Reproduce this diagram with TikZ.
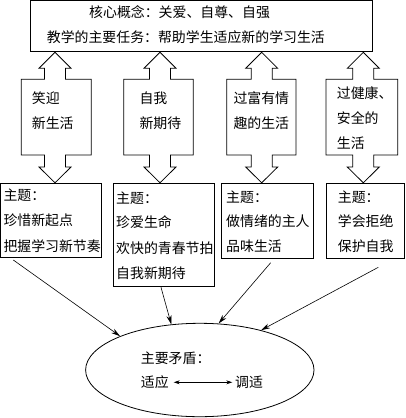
\documentclass[tikz,border=0pt]{standalone}
\usepackage{fontspec}
\newfontfamily\cjk{Noto Sans CJK SC}
\usetikzlibrary{arrows.meta,shapes.geometric}
\tikzset{
  x=1pt, y=-1pt,
  frame/.style={draw, line width=0.8pt, inner sep=0pt},
  txt/.style={inner sep=0pt, anchor=west, text height=12.2pt, text depth=1.7pt, font=\cjk\fontsize{13.9}{16}\selectfont},
  link/.style={line width=0.6pt, -{Stealth[length=9pt,width=5pt]}},
}
\newcommand\udcallout[3]{% cx, left, right
  \draw[line width=0.8pt] (#1,52.3) -- (#1+16,68.3) -- (#1+10.5,68.3) -- (#1+10.5,79.3) -- (#3,79.3) -- (#3,155) -- (#1+10.5,155) -- (#1+10.5,167) -- (#1+16,167) -- (#1,182.8) -- (#1-16,167) -- (#1-10.5,167) -- (#1-10.5,155) -- (#2,155) -- (#2,79.3) -- (#1-10.5,79.3) -- (#1-10.5,68.3) -- (#1-16,68.3) -- cycle;}
\begin{document}
\begin{tikzpicture}
\useasboundingbox (0,0) rectangle (405,418);
% top box
\node[frame, minimum width=341.6pt, minimum height=50.3pt] (top) at (201.5,25.85) {};
\node[txt] (t1) at (89,12.5) {核心概念：关爱、自尊、自强};
\node[txt] (t2) at (46.7,37) {教学的主要任务：帮助学生适应新的学习生活};
% callouts
\udcallout{55}{21.3}{91.3}
\udcallout{160}{123.7}{193.3}
\udcallout{261.7}{226.7}{296}
\udcallout{363.3}{326}{397.7}
\node[txt] (c1a) at (31.7,97.8) {笑迎};
\node[txt] (c1b) at (31.7,123.3) {新生活};
\node[txt] (c2a) at (139.3,97.8) {自我};
\node[txt] (c2b) at (139.3,123.3) {新期待};
\node[txt] (c3a) at (233.3,97.8) {过富有情};
\node[txt] (c3b) at (233.3,123.3) {趣的生活};
\node[txt] (c4a) at (336.7,93.7) {过健康、};
\node[txt] (c4b) at (336.7,118.3) {安全的};
\node[txt] (c4c) at (336.7,143) {生活};
% bottom boxes
\node[frame, minimum width=100.3pt, minimum height=74pt] (b1) at (50.85,220.3) {};
\node[frame, minimum width=101pt, minimum height=103.4pt] (b2) at (163.8,235) {};
\node[frame, minimum width=91.6pt, minimum height=75pt] (b3) at (267.5,220.8) {};
\node[frame, minimum width=78.3pt, minimum height=75pt] (b4) at (365.15,220.8) {};
\node[txt] (b1a) at (3.3,195) {主题：};
\node[txt] (b1b) at (3.3,220.3) {珍惜新起点};
\node[txt] (b1c) at (3.3,246) {把握学习新节奏};
\node[txt] (b2a) at (116,198.3) {主题：};
\node[txt] (b2b) at (116,222.7) {珍爱生命};
\node[txt] (b2c) at (116,248.3) {欢快的青春节拍};
\node[txt] (b2d) at (116,273.3) {自我新期待};
\node[txt] (b3a) at (226,197.3) {主题：};
\node[txt] (b3b) at (226,221.7) {做情绪的主人};
\node[txt] (b3c) at (226,246.7) {品味生活};
\node[txt] (b4a) at (337.7,197.3) {主题：};
\node[txt] (b4b) at (337.7,221.7) {学会拒绝};
\node[txt] (b4c) at (337.7,246.7) {保护自我};
% ellipse
\node[draw, ellipse, line width=0.8pt, inner sep=0pt, minimum width=228.4pt, minimum height=93.4pt] (ell) at (199.8,370) {};
\node[txt] (m) at (140.7,358.3) {主要矛盾：};
\node[txt] (sy) at (140.7,382.3) {适应};
\node[txt] (ts) at (235,382.3) {调适};
\draw[line width=0.6pt, {Stealth[length=6pt,width=4pt]}-{Stealth[length=6pt,width=4pt]}, shorten <=4.8pt, shorten >=2.7pt] (sy.east) -- (ts.west);
% connectors
\coordinate (s1) at (13.3,260);
\coordinate (s2) at (161,287.3);
\coordinate (s3) at (270.7,262.7);
\coordinate (s4) at (378.3,267.3);
\draw[link] (s1) -- (ell.157.2);
\draw[link] (s2) -- (ell.122.6);
\draw[link] (s3) -- (ell.68.1);
\draw[link] (s4) -- (ell.33);
\end{tikzpicture}
\end{document}
